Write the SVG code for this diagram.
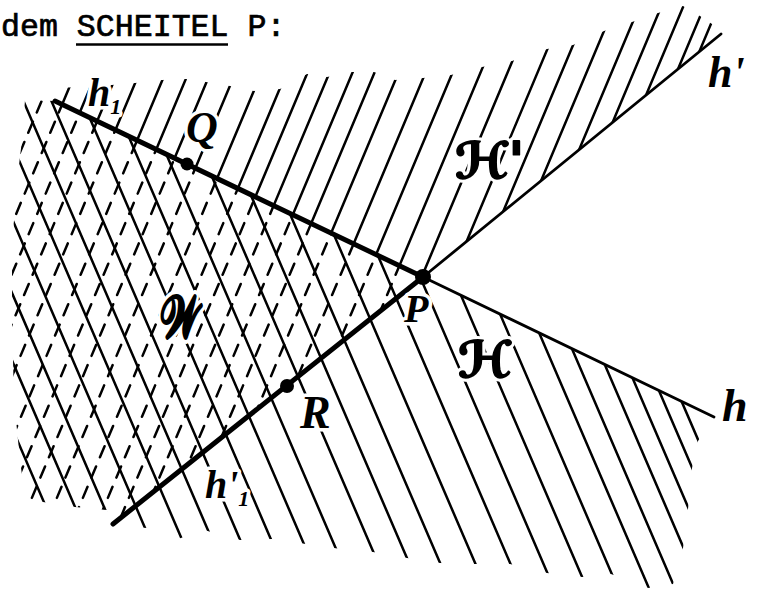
<svg xmlns="http://www.w3.org/2000/svg" width="761" height="589" viewBox="0 0 761 589">
<style>
.hatch{fill:none;stroke:#000;stroke-width:2.5;stroke-linecap:round}
.dash{stroke-dasharray:12 10}
.thick{fill:none;stroke:#000;stroke-width:5;stroke-linecap:round}
.thin{fill:none;stroke:#000;stroke-width:2.8;stroke-linecap:round}
.lbl{font-family:"Liberation Serif","DejaVu Serif",serif;font-style:italic;font-weight:bold;fill:#000;stroke:#fff;stroke-width:7;paint-order:stroke;stroke-linejoin:round}
.halo{font-family:"DejaVu Serif","DejaVu Sans","Liberation Serif",serif;font-weight:bold;fill:#fff;stroke:#fff;stroke-width:8;stroke-linejoin:round}
.scr{font-family:"DejaVu Serif","DejaVu Sans","Liberation Serif",serif;font-weight:bold;fill:#000;stroke:#000;stroke-width:1.8;stroke-linejoin:round}
.title{font-family:"Liberation Mono","Courier New",monospace;font-size:31.6px;fill:#000;stroke:#000;stroke-width:0.7}
</style>
<defs>
<clipPath id="clipA"><polygon points="55,101 58,88 100,86 135,83 162,80 186,79 206,82 230,86 254,91 280,89 307,74 327,77 352,72 374,72 395,80 423,78 451,75 482,67 512,61 547,49 573,45 604,31 632,22 658,13 683,6 700,16 712,24 722,33 423,277"/></clipPath>
<clipPath id="clipW"><polygon points="25,100 55,101 423,277 113,524 107,510 75,507 43,502 25,498 20,460 14,400 12,320 12,250 16,190 22,140"/></clipPath>
<clipPath id="clipH"><polygon points="25,100 55,101 714,417 698,441 692,468 688,509 683,548 673,584 648,588 611,574 582,577 547,573 510,564 475,564 440,563 407,558 373,552 341,549 306,544 272,539 240,540 204,530 178,539 147,528 118,526 107,510 75,507 43,502 25,498 20,460 14,400 12,320 12,250 16,190 22,140"/></clipPath>
</defs>
<rect width="761" height="589" fill="#fff"/>
<g id="title">
<text class="title" x="1" y="36">dem SCHEITEL P:</text>
<line x1="76" y1="44.5" x2="228" y2="44.5" stroke="#000" stroke-width="2.5"/>
</g>
<g id="hatching">
<path id="hatch-upper" class="hatch" clip-path="url(#clipA)" d="M84 0L-168 600M106 0L-146 600M127 0L-125 600M148 0L-104 600M170 0L-82 600M196 0L-56 600M219 0L-33 600M241 0L-11 600M266 0L14 600M292 0L40 600M317 0L65 600M338 0L86 600M360 0L108 600M383 0L131 600M405 0L153 600M429 0L177 600M456 0L204 600M483 0L231 600M511 0L259 600M538 0L286 600M568 0L316 600M592 0L340 600M617 0L365 600M642 0L390 600M664 0L412 600M686 0L434 600M707 0L455 600M721 0L469 600"/>
<path id="hatch-w-dashed" class="hatch dash" clip-path="url(#clipW)" d="M84 0L-168 600M106 0L-146 600M127 0L-125 600M148 0L-104 600M170 0L-82 600M196 0L-56 600M219 0L-33 600M241 0L-11 600M266 0L14 600M292 0L40 600M317 0L65 600M338 0L86 600M360 0L108 600M383 0L131 600M405 0L153 600M429 0L177 600M456 0L204 600M483 0L231 600M511 0L259 600M538 0L286 600"/>
<path id="hatch-lower" class="hatch" clip-path="url(#clipH)" d="M-172 0L86 600M-143 0L115 600M-114 0L144 600M-82 0L176 600M-50 0L208 600M-20 0L238 600M8 0L266 600M39 0L297 600M70 0L328 600M100 0L358 600M136 0L394 600M167 0L425 600M198 0L456 600M233 0L491 600M268 0L526 600M301 0L559 600M334 0L592 600M365 0L623 600M396 0L654 600M422 0L680 600M448 0L706 600M470 0L728 600M491 0L749 600M509 0L767 600"/>
</g>
<g id="connectors">
<path id="ray-h1" class="thick" d="M55 101L423 277"/>
<path id="ray-h1p" class="thick" d="M113 524L423 277"/>
<path id="ray-h" class="thin" d="M423 277L714 417"/>
<path id="ray-hp" class="thin" d="M423 277L721 34"/>
</g>
<g id="point-Q"><circle cx="187" cy="164" r="6.5"/><text class="lbl" x="186" y="142" font-size="44">Q</text></g>
<g id="point-R"><circle cx="287" cy="386" r="7"/><text class="lbl" x="300" y="428" font-size="46">R</text></g>
<g id="point-P"><circle cx="423" cy="277" r="8"/><text class="lbl" x="404" y="322" font-size="40">P</text></g>
<g id="labels">
<text class="lbl" x="88" y="106" font-size="40">h<tspan font-size="22" dy="8">1</tspan></text>
<text class="lbl" x="205" y="498" font-size="40">h'<tspan font-size="22" dy="8">1</tspan></text>
<text class="lbl" x="708" y="87" font-size="44">h'</text>
<text class="lbl" x="722" y="421" font-size="46">h</text>
<g id="label-Hp"><text class="halo" x="455" y="178" font-size="50">ℋ'</text><text class="scr" x="455" y="178" font-size="50">ℋ'</text></g>
<g id="label-H"><text class="halo" x="458" y="377" font-size="50">ℋ</text><text class="scr" x="458" y="377" font-size="50">ℋ</text></g>
<g id="label-W" transform="translate(160,337) scale(0.8,1.25)"><text class="halo" x="0" y="0" font-size="46">𝒲</text><text class="scr" x="0" y="0" font-size="46">𝒲</text></g>
</g>
</svg>
